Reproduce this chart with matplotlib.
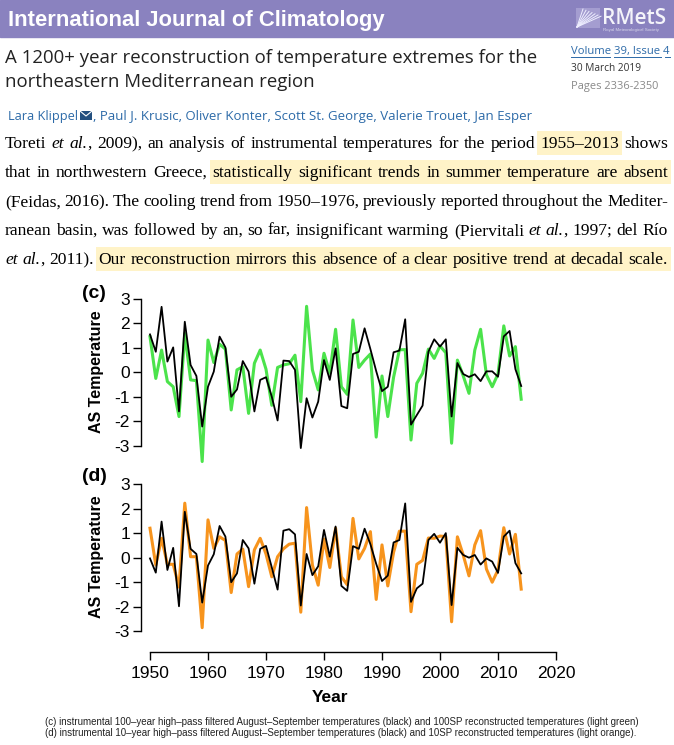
import numpy as np
import matplotlib
matplotlib.use('Agg')
import matplotlib.pyplot as plt
from matplotlib.patches import Rectangle
from matplotlib.lines import Line2D
from matplotlib import font_manager

plt.rcParams['axes.unicode_minus'] = False

# ---- data ----
years = np.arange(1950, 2015)

black_c = [1.55, 0.84, 2.68, 0.44, 1.02, -1.6, 2.07, 0.3, -0.15, -2.22,
           -0.59, 0.03, 1.46, 1.02, -1.0, -0.7, 0.46, 0.03, -1.6, -0.31,
           -0.2, -1.0, -1.97, 0.48, 0.46, 0.1, -3.1, -1.06, -1.85, -1.2,
           0.5, -0.31, 0.98, -1.38, -1.47, 0.75, 0.84, 1.8, 0.95, 0.05,
           -0.77, -0.59, 0.82, 0.89, 2.17, -2.14, -1.75, -1.36, 0.84, 1.35,
           1.05, 1.35, -1.81, 0.38, -0.07, -0.19, -0.08, -0.36, 0.04, 0.04,
           -0.18, 1.47, 1.69, 0.13, -0.56]
green_c = [1.46, -0.25, 0.91, -0.38, -0.59, -1.81, 1.59, -0.31, -0.34, -3.65,
           1.32, 0.4, 1.15, 0.95, -1.54, 0.1, 0.23, -1.68, 0.37, 0.91,
           0.13, -1.35, 0.2, 0.3, 0.35, 0.7, -1.2, 2.7, 0.1, -0.72,
           0.78, -0.04, 1.76, -0.59, -0.9, 2.14, 0.2, 0.5, 0.75, -2.65,
           -0.15, -1.81, -0.2, 0.92, 0.93, -2.77, -0.45, -0.04, 0.95, 0.57,
           1.08, 0.8, -2.9, 0.5, -0.14, -0.86, 0.91, 1.76, -0.1, -0.59,
           -0.07, 1.9, 0.67, 1.05, -1.1]
black_d = [-0.03, -0.61, 1.47, -0.5, 0.4, -1.98, 1.87, 0.36, 0.15, -1.83,
           -0.32, 0.14, 1.29, 0.86, -1.0, -0.64, 0.72, 0.38, -1.06, 0.36,
           0.48, -0.4, -1.3, 1.1, 1.16, 0.95, -1.95, 0.15, -0.71, -0.35,
           1.13, 0.04, 1.27, -1.15, -1.35, 0.47, 0.36, 1.18, 0.55, -0.25,
           -0.95, -0.73, 0.62, 0.72, 2.21, -1.8, -1.25, -1.06, 0.72, 0.97,
           0.61, 1.0, -1.93, 0.4, 0.11, 0.0, 0.11, -0.28, -0.03, -0.16,
           -0.62, 0.86, 1.1, -0.22, -0.64]
orange_d = [1.2, -0.3, 0.79, -0.27, -0.27, -1.2, 2.22, 0.04, 0.04, -2.85,
            1.54, 0.38, 0.85, 0.7, -1.42, 0.15, 0.35, -1.18, 0.32, 0.79,
            0.15, -0.78, 0.04, 0.36, 0.55, 0.59, -2.22, 2.04, -0.3, -1.12,
            0.76, -0.4, 1.2, -0.78, -1.1, 1.6, -0.05, 0.38, 1.06, -1.7,
            0.52, -1.15, 0.22, 1.08, 1.08, -2.2, -0.27, -0.11, 0.8, 0.79,
            0.88, 0.86, -2.61, 0.85, 0.11, -0.74, 0.52, 1.1, -0.46, -1.0,
            -0.5, 1.22, 0.15, 0.95, -1.28]

yticks = [-3, -2, -1, 0, 1, 2, 3]
xticks = [1950, 1960, 1970, 1980, 1990, 2000, 2010, 2020]

journal = "International Journal of Climatology"
title = ["A 1200+ year reconstruction of temperature extremes for the",
         "northeastern Mediterranean region"]
first_author = "Lara Klippel"
other_authors = ", Paul J. Krusic, Oliver Konter, Scott St. George, Valerie Trouet, Jan Esper"
body = [
    [("Toreti ", ""), ("et al.", "i"), (", 2009), an analysis of instrumental temperatures for the period ", ""),
     ("1955\u20132013", "h"), (" shows", "")],
    [("that in northwestern Greece, ", ""),
     ("statistically significant trends in summer temperature are absent", "h")],
    [("(Feidas, 2016). The cooling trend from 1950\u20131976, previously reported throughout the Mediter-", "")],
    [("ranean basin, was followed by an, so far, insignificant warming (Piervitali ", ""), ("et al.", "i"),
     (", 1997; del R\u00edo", "")],
    [("et al.", "i"), (", 2011). ", ""),
     ("Our reconstruction mirrors this absence of a clear positive trend at decadal scale.", "h")],
]
caption = ["(c) instrumental 100\u2013year high\u2013pass filtered August\u2013September temperatures (black) and 100SP reconstructed temperatures (light green)",
           "(d) instrumental 10\u2013year high\u2013pass filtered August\u2013September temperatures (black) and 10SP reconstructed temperatures (light orange)."]

W, H = 674, 745
fig = plt.figure(figsize=(W / 100, H / 100), dpi=100)
r = fig.canvas.get_renderer()
names = {f.name for f in font_manager.fontManager.ttflist}
narrow = 'Liberation Sans Narrow' if 'Liberation Sans Narrow' in names else 'Liberation Sans'


def put(x, y, s, size, fit=None, **kw):
    kw.setdefault('va', 'center')
    t = fig.text(x / W, 1 - y / H, s, fontsize=size, **kw)
    if fit:
        w = t.get_window_extent(r).width
        t.set_fontsize(size * fit / w)
    return t


def hline(xa, xb, y, color, lw):
    fig.add_artist(Line2D([xa / W, xb / W], [1 - y / H, 1 - y / H], transform=fig.transFigure,
                          color=color, lw=lw))


# header banner
fig.add_artist(Rectangle((0, 1 - 37 / H), 1, 37 / H, transform=fig.transFigure,
                         color='#8a82bf', zorder=0))
put(8, 26, journal, 16, fit=377, color='white', family=narrow, weight='bold', va='baseline')
fig.add_artist(Rectangle((576 / W, 1 - 28 / H), 24 / W, 20 / H, transform=fig.transFigure,
                         facecolor='#a49dd0', edgecolor='none'))
for k in range(7):
    fig.add_artist(Line2D([577 / W, (583 + 3 * k) / W], [1 - 27 / H, 1 - (9 + 1.2 * k) / H],
                          transform=fig.transFigure, color='#eeeeff', lw=0.7))
put(602, 24, "RMetS", 15, fit=64, color='#f4f4fa', family='Open Sans', weight='semibold',
    va='baseline')
put(603, 30, "Royal Meteorological Society", 3, fit=55, color='#d8d6ea', family='Liberation Sans')

# title block
t1 = put(5, 63, title[0], 13, fit=530, color='#222222', family='Open Sans', va='baseline')
put(5, 87, title[1], t1.get_fontsize(), color='#222222', family='Open Sans', va='baseline')
blue = '#2c6aa8'
put(571, 54, "Volume 39, Issue 4", 8, fit=99, color=blue, family='Open Sans', va='baseline')
hline(571, 610, 57, blue, 0.7)
hline(614, 661, 57, blue, 0.7)
hline(665, 670, 57, blue, 0.7)
put(571, 71, "30 March 2019", 8, fit=70, color='#333333', family='Open Sans', va='baseline')
put(571, 89, "Pages 2336-2350", 8, fit=87, color='#888888', family='Open Sans', va='baseline')

# author line with e-mail icon
a1 = put(8, 120, first_author, 9.2, color=blue, family='Open Sans', va='baseline')
xa = 8 + a1.get_window_extent(r).width + 2
fig.add_artist(Rectangle((xa / W, 1 - 120 / H), 12 / W, 9 / H, transform=fig.transFigure,
                         facecolor='#24507f', edgecolor='none'))
fig.add_artist(Line2D([xa / W, (xa + 6) / W, (xa + 12) / W], [1 - 111 / H, 1 - 116 / H, 1 - 111 / H],
                      transform=fig.transFigure, color='white', lw=0.8))
put(xa + 13, 120, other_authors, 9.2, fit=530 - xa - 13, color=blue, family='Open Sans',
    va='baseline')

# justified body text with highlighted passages
x0, x1 = 5, 668
ys = [143, 172, 201, 230, 259]
for line, yy in zip(body, ys):
    words = [[]]
    for txt, st in line:
        parts = txt.split(' ')
        for i, p in enumerate(parts):
            if i > 0:
                words.append([])
            if p:
                words[-1].append((p, st))
    words = [w for w in words if w]
    objs = []
    widths = []
    for w in words:
        pieces = []
        tot = 0
        for p, st in w:
            t = put(0, yy + 5, p, 12.6, family='Liberation Serif', color='black', va='baseline',
                    style='italic' if st == 'i' else 'normal', zorder=3)
            ww = t.get_window_extent(r).width
            pieces.append((t, ww, st))
            tot += ww
        objs.append(pieces)
        widths.append(tot)
    gap = (x1 - x0 - sum(widths)) / (len(words) - 1)
    x = x0
    spans = []
    for pieces, tot in zip(objs, widths):
        xs = x
        hl = False
        for t, ww, st in pieces:
            t.set_x(x / W)
            x += ww
            hl = hl or st == 'h'
        if hl:
            if spans and abs(spans[-1][1] + gap - xs) < 1:
                spans[-1][1] = x
            else:
                spans.append([xs, x])
        x += gap
    for a, b in spans:
        fig.add_artist(Rectangle(((a - 3) / W, 1 - (yy + 12) / H), (b - a + 6) / W, 24 / H,
                                 transform=fig.transFigure, facecolor='#fff3c8',
                                 edgecolor='none', zorder=1))

# ---- panels ----
left, width = 141 / W, (560 - 141) / W
ax_c = fig.add_axes([left, 0.369, width, 0.2428])
ax_d = fig.add_axes([left, 0.1252, width, 0.2383])
ax_c.set_ylim(-4, 3.4)
ax_d.set_ylim(-3.83, 3.4)

ax_c.plot(years, green_c, color='#4be34b', lw=2.2, clip_on=False)
ax_c.plot(years, black_c, color='black', lw=1.3, clip_on=False)
ax_d.plot(years, orange_d, color='#f7941d', lw=2.2, clip_on=False)
ax_d.plot(years, black_d, color='black', lw=1.3, clip_on=False)

for ax, bottom in [(ax_c, False), (ax_d, True)]:
    ax.set_xlim(1948.45, 2020.69)
    ax.set_yticks(yticks)
    ax.spines['left'].set_bounds(-3, 3)
    ax.spines['left'].set_linewidth(1.0)
    ax.spines['top'].set_visible(False)
    ax.spines['right'].set_visible(False)
    ax.tick_params(axis='y', length=6, width=1.0, labelsize=12.5, pad=2,
                   labelfontfamily='Liberation Sans')
    ax.patch.set_visible(False)
    if bottom:
        ax.set_xticks(xticks)
        ax.spines['bottom'].set_bounds(1950, 2020)
        ax.spines['bottom'].set_linewidth(1.0)
        ax.tick_params(axis='x', length=6, width=1.0, labelsize=12.5, pad=4,
                       labelfontfamily='Liberation Sans')
    else:
        ax.set_xticks([])
        ax.spines['bottom'].set_visible(False)

for lab, yl, yc in [("(c)", 293, 372), ("(d)", 476, 557)]:
    put(94, yl, lab, 14, ha='center', weight='bold', family='Liberation Sans')
    put(97, yc, "AS Temperature", 11.5, ha='center', rotation=90, weight='bold',
        family='Liberation Sans')
put(330, 697, "Year", 12.5, ha='center', weight='bold', family='Liberation Sans')

c1 = put(45, 722, caption[0], 6.3, fit=600, family='Liberation Sans', color='#222222')
put(45, 733, caption[1], c1.get_fontsize(), family='Liberation Sans', color='#222222')

fig.savefig('out.png', dpi=100)
